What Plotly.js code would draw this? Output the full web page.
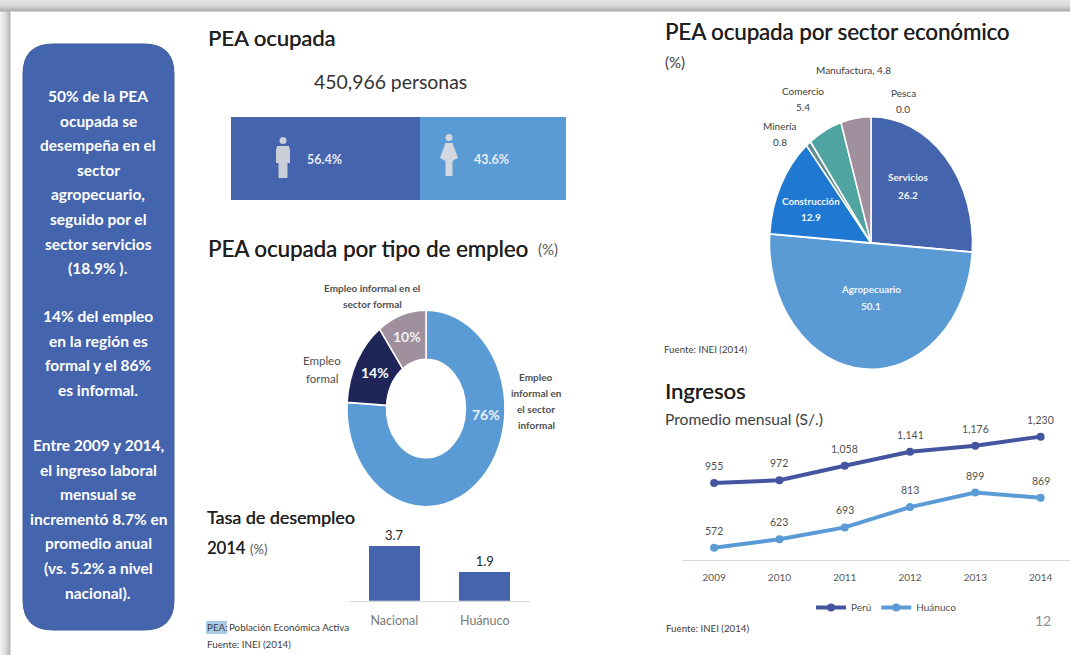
<!DOCTYPE html>
<html><head><meta charset="utf-8">
<script src="https://cdn.plot.ly/plotly-3.0.1.min.js"></script>
<style>
html,body{margin:0;padding:0;background:#fff;}
#chart{position:relative;width:1070px;height:655px;overflow:hidden;
background:
 linear-gradient(to bottom,#e6e6e6 0,#d6d6d6 6px,#aaaaaa 11px,rgba(255,255,255,0) 12px) no-repeat top/100% 12px,
 linear-gradient(to right,#f4f4f4 0,#d8d8d8 6px,#b4b4b4 10px,rgba(255,255,255,0) 11px) no-repeat left/11px 100%,
 #ffffff;}
</style></head><body><div id="chart"></div>
<script>
const W=1070,H=655;
// data
const genero=['Hombres','Mujeres'];
const generoValores=[56.4,43.6];
const tipoEmpleo=['Empleo informal en el sector informal','Empleo formal','Empleo informal en el sector formal'];
const tipoValores=[76,14,10];
const sectores=['Pesca','Servicios','Agropecuario','Construcción','Minería','Comercio','Manufactura'];
const sectorValores=[0.0,26.2,50.1,12.9,0.8,5.4,4.8];
const desempleoCat=['Nacional','Huánuco'];
const desempleoVal=[3.7,1.9];
const anios=['2009','2010','2011','2012','2013','2014'];
const ingresoPeru=[955,972,1058,1141,1176,1230];
const ingresoHuanuco=[572,623,693,813,899,869];
const textoCaja=[
 ['50% de la PEA','ocupada se','desempeña en el','sector','agropecuario,','seguido por el','sector servicios','(18.9% ).'],
 ['14% del empleo','en la región es','formal y el 86%','es informal.'],
 ['Entre 2009 y 2014,','el ingreso laboral','mensual se','incrementó 8.7% en','promedio anual','(vs. 5.2% a nivel','nacional).']
];
const AZUL='#4464ad',CELESTE='#5b9bd5';
const fx=p=>p/W, fy=p=>1-p/H;
const FONT='Lato, "Open Sans", sans-serif';
const ann=[];
function T(text,x,y,size,color,opt){opt=opt||{};
 const font={family:FONT,size:size,color:color};
 if(opt.heavy) font.shadow='0.25px 0 0 '+color;
 ann.push({text:opt.bold?'<b>'+text+'</b>':text,xref:'paper',yref:'paper',x:fx(x),y:fy(y),
  xanchor:opt.anchor||'center',yanchor:'middle',showarrow:false,font:font,borderpad:0,borderwidth:0});}
const P=(x,y)=>fx(x).toFixed(5)+','+fy(y).toFixed(5);
function roundRect(x0,y0,x1,y1,r){return 'M'+P(x0+r,y0)+' L'+P(x1-r,y0)+' Q'+P(x1,y0)+' '+P(x1,y0+r)+' L'+P(x1,y1-r)+' Q'+P(x1,y1)+' '+P(x1-r,y1)+' L'+P(x0+r,y1)+' Q'+P(x0,y1)+' '+P(x0,y1-r)+' L'+P(x0,y0+r)+' Q'+P(x0,y0)+' '+P(x0+r,y0)+' Z';}
const shapes=[];
shapes.push({type:'path',xref:'paper',yref:'paper',path:roundRect(23,44,174,630,30),fillcolor:AZUL,line:{color:'#3f5c9e',width:1},layer:'below'});
shapes.push({type:'rect',xref:'paper',yref:'paper',x0:fx(206),x1:fx(227),y0:fy(634),y1:fy(621),fillcolor:'#a9cbe8',line:{width:0},layer:'below'});
function man(c,t,b,col){
 shapes.push({type:'circle',xref:'paper',yref:'paper',x0:fx(c-3.5),x1:fx(c+3.5),y0:fy(t+7),y1:fy(t),fillcolor:col,line:{width:0}});
 shapes.push({type:'path',xref:'paper',yref:'paper',fillcolor:col,line:{width:0},
  path:'M'+P(c-6,t+9)+' L'+P(c+6,t+9)+' L'+P(c+7,t+13)+' L'+P(c+7,t+26)+' L'+P(c+4.5,t+26)+' L'+P(c+4.5,b)+' L'+P(c-4.5,b)+' L'+P(c-4.5,t+26)+' L'+P(c-7,t+26)+' L'+P(c-7,t+13)+' Z'});}
function woman(c,t,b,col){
 shapes.push({type:'circle',xref:'paper',yref:'paper',x0:fx(c-3.5),x1:fx(c+3.5),y0:fy(t+7),y1:fy(t),fillcolor:col,line:{width:0}});
 shapes.push({type:'path',xref:'paper',yref:'paper',fillcolor:col,line:{width:0},
  path:'M'+P(c-3.5,t+9)+' L'+P(c+3.5,t+9)+' L'+P(c+9,t+24)+' L'+P(c+5,t+26)+' L'+P(c+3.5,t+27)+' L'+P(c+3.5,b)+' L'+P(c-3.5,b)+' L'+P(c-3.5,t+27)+' L'+P(c-5,t+26)+' L'+P(c-9,t+24)+' Z'});}
man(283,137,178,'#c9ced8');
woman(449,134,176,'#d3d8e0');
const startY=[96,316,445];
textoCaja.forEach((g,i)=>g.forEach((l,j)=>T(l,98,startY[i]+j*24.6,15.5,'#ffffff',{bold:true})));
const DK='#1f1f1f';
T('PEA ocupada',208,38,22,DK,{anchor:'left',heavy:true});
T('450,966 personas',390.5,81,19.4,'#333333');
T('PEA ocupada por tipo de empleo',208,248,22.3,DK,{anchor:'left',heavy:true});
T('(%)',538,249,15,'#595959',{anchor:'left'});
T('PEA ocupada por sector económico',665,32,22.2,DK,{anchor:'left',heavy:true});
T('(%)',665,62,15,'#404040',{anchor:'left'});
T('Ingresos',665,390,22,DK,{anchor:'left',heavy:true});
T('Promedio mensual (S/.)',665,419,15.6,'#404040',{anchor:'left'});
T('Tasa de desempleo',207,517,17.9,DK,{anchor:'left',heavy:true});
T('2014',207,548,16.5,DK,{anchor:'left',heavy:true});
T('(%)',250,549,13,'#595959',{anchor:'left'});
T('PEA:',207,627,9.8,'#404040',{anchor:'left'});
T('Población Económica Activa',229,627,9.8,'#404040',{anchor:'left'});
T('Fuente: INEI (2014)',207,644,9.8,'#404040',{anchor:'left'});
T('Fuente: INEI (2014)',664,349,9.7,'#404040',{anchor:'left'});
T('Fuente: INEI (2014)',666,628,9.7,'#404040',{anchor:'left'});
T('12',1043,620,14,'#8c8c8c');
T(generoValores[0].toFixed(1)+'%',324,159,12.5,'#e6eaf2',{bold:true});
T(generoValores[1].toFixed(1)+'%',491,159,12.5,'#e6eef6',{bold:true});
T('Empleo informal en el',372,287.5,10,'#505050',{bold:true});
T('sector formal',372,303.5,10,'#505050',{bold:true});
T('Empleo',322,360,11.5,'#505050');
T('formal',322,378,11.5,'#505050');
['Empleo','informal en','el sector','informal'].forEach((s,i)=>T(s,536,377+i*16,10,'#505050',{bold:true}));
T(tipoValores[0]+'%',486,414,14,'#e8f0f8',{bold:true});
T(tipoValores[1]+'%',375,372,14,'#ffffff',{bold:true});
T(tipoValores[2]+'%',407,336,14,'#f2f0f2',{bold:true});
const s=sectores,v=sectorValores.map(n=>n.toFixed(1));
T(s[6]+', '+v[6],853,70,10,'#404040');
T(s[5],803,91,10,'#404040');T(v[5],803,107,10,'#404040');
T(s[0],903,93,10,'#404040');T(v[0],903,109,10,'#404040');
T(s[4],780,126,10,'#404040');T(v[4],780,142,10,'#404040');
T(s[1],908,177,10,'#f4f4f4',{bold:true});T(v[1],908,195,10,'#f4f4f4',{bold:true});
T(s[3],811,201,9.8,'#f4f4f4',{bold:true});T(v[3],811,217,10,'#f4f4f4',{bold:true});
T(s[2],871,289,9.8,'#eef3f9',{bold:true});T(v[2],871,306,10,'#eef3f9',{bold:true});
const fmt=n=>n>=1000?String(n).replace(/(\d)(\d{3})$/,'$1,$2'):String(n);
[ingresoPeru,ingresoHuanuco].forEach(a=>a.forEach((n,i)=>ann.push({text:fmt(n),x:i,y:n,xref:'x3',yref:'y3',yshift:17,showarrow:false,font:{family:FONT,size:10.5,color:'#505050'}})));

const pieScale=1.245;
const donutBox={cx:426,cy:408.5,r:79}, pieBox={cx:871,cy:243,r:101.5};
const dom=b=>({x:[fx(b.cx-b.r),fx(b.cx+b.r)],y:[fy(b.cy+b.r),fy(b.cy-b.r)]});
const data=[
 {type:'bar',orientation:'h',x:[generoValores[0]],y:['PEA'],name:genero[0],marker:{color:AZUL},xaxis:'x',yaxis:'y',showlegend:false},
 {type:'bar',orientation:'h',x:[generoValores[1]],y:['PEA'],name:genero[1],marker:{color:CELESTE},xaxis:'x',yaxis:'y',showlegend:false},
 {type:'pie',labels:tipoEmpleo,values:tipoValores,hole:0.5,sort:false,direction:'clockwise',rotation:0,textinfo:'none',domain:dom(donutBox),
  marker:{colors:[CELESTE,'#1f2559','#a0909e'],line:{color:'#fff',width:1.5}},showlegend:false},
 {type:'pie',labels:sectores,values:sectorValores,sort:false,direction:'clockwise',rotation:0,textinfo:'none',domain:dom(pieBox),
  marker:{colors:['#8a8a8a',AZUL,CELESTE,'#1f78d1','#5f8c96','#4fa3a0','#a0909e'],line:{color:'#fff',width:1.5}},showlegend:false},
 {type:'bar',x:desempleoCat,y:desempleoVal,text:desempleoVal.map(n=>n.toFixed(1)),textposition:'outside',cliponaxis:false,
  textfont:{family:FONT,size:13,color:'#262626'},marker:{color:AZUL},width:0.56,xaxis:'x2',yaxis:'y2',showlegend:false},
 {type:'scatter',mode:'lines+markers',name:'Perú',x:anios,y:ingresoPeru,line:{color:'#44549f',width:4},marker:{color:'#44549f',size:8},xaxis:'x3',yaxis:'y3'},
 {type:'scatter',mode:'lines+markers',name:'Huánuco',x:anios,y:ingresoHuanuco,line:{color:CELESTE,width:4},marker:{color:CELESTE,size:8},xaxis:'x3',yaxis:'y3'}
];
const layout={width:W,height:H,margin:{l:0,r:0,t:0,b:0},paper_bgcolor:'rgba(0,0,0,0)',plot_bgcolor:'rgba(0,0,0,0)',
 font:{family:FONT},barmode:'stack',bargap:0,annotations:ann,shapes:shapes,hovermode:false,
 xaxis:{domain:[fx(231),fx(566)],range:[0,100],visible:false,fixedrange:true},
 yaxis:{domain:[fy(200),fy(116.7)],visible:false,fixedrange:true},
 xaxis2:{domain:[fx(349),fx(530)],anchor:'y2',type:'category',range:[-0.5,1.5],showgrid:false,showline:true,linecolor:'#d9d9d9',linewidth:1,
   ticks:'outside',ticklen:8,tickcolor:'rgba(0,0,0,0)',tickfont:{family:FONT,size:12.5,color:'#7a7a7a'},fixedrange:true},
 yaxis2:{domain:[fy(600.7),fy(541.2)],anchor:'x2',range:[0,4],visible:false,showgrid:false,fixedrange:true},
 xaxis3:{domain:[fx(681.5),1],anchor:'y3',type:'category',range:[-0.5,5.45],showgrid:false,showline:true,linecolor:'#d9d9d9',linewidth:1,
   ticks:'outside',ticklen:8,tickcolor:'rgba(0,0,0,0)',tickfont:{family:FONT,size:10,color:'#595959'},fixedrange:true},
 yaxis3:{domain:[fy(560),fy(424.8)],anchor:'x3',range:[500,1300],visible:false,showgrid:false,fixedrange:true},
 legend:{orientation:'h',x:fx(811),y:fy(593),xanchor:'left',yanchor:'top',font:{family:FONT,size:10,color:'#505050'},bgcolor:'rgba(0,0,0,0)',itemwidth:30,traceorder:'normal'}
};
function stretch(){
 const boxes=[donutBox,pieBox];
 document.querySelectorAll('#chart .pielayer g.trace').forEach((g,i)=>{const b=boxes[i];
  if(b) g.setAttribute('transform','translate('+b.cx+','+b.cy+') scale(1,'+pieScale+') translate('+(-b.cx)+','+(-b.cy)+')');});
}
Plotly.newPlot('chart',data,layout,{displayModeBar:false,staticPlot:true}).then(stretch);
</script></body></html>
